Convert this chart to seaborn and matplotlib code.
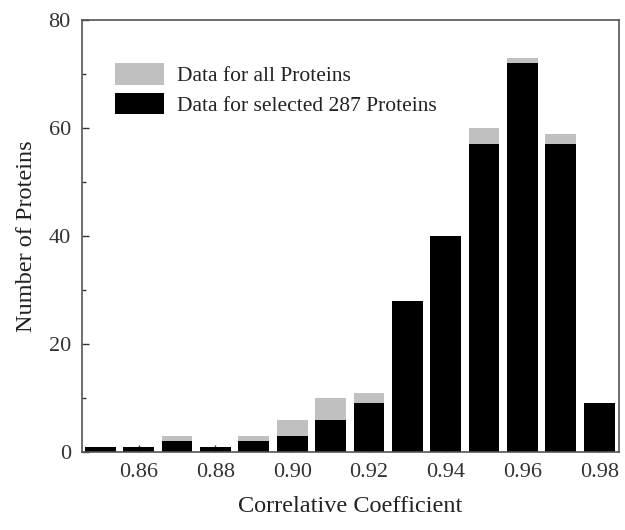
import pandas as pd
import numpy as np
import matplotlib.pyplot as plt
import seaborn as sns
from matplotlib.ticker import MultipleLocator

sns.set_style('white')
plt.rcParams['font.family'] = ['Liberation Serif', 'DejaVu Serif']

# bin centres of the correlative coefficient
coef = [0.85, 0.86, 0.87, 0.88, 0.89, 0.90, 0.91, 0.92, 0.93, 0.94, 0.95, 0.96, 0.97, 0.98]
# counts
all_counts = [1, 1, 3, 1, 3, 6, 10, 11, 28, 40, 60, 73, 59, 9]
selected_counts = [1, 1, 2, 1, 2, 3, 6, 9, 28, 40, 57, 72, 57, 9]

df = pd.DataFrame({'coef': coef, 'all': all_counts, 'selected': selected_counts})

fig = plt.figure(figsize=(6.25, 5.3), dpi=100)
ax = fig.add_axes([0.131, 0.147, 0.859, 0.815])

# all proteins behind, selected proteins drawn on top
sns.barplot(data=df, x='coef', y='all', native_scale=True, color='#c0c0c0',
            saturation=1, width=0.8, linewidth=0, ax=ax, label='Data for all Proteins')
sns.barplot(data=df, x='coef', y='selected', native_scale=True, color='black',
            saturation=1, width=0.8, linewidth=0, ax=ax, label='Data for selected 287 Proteins')

ax.set_xlim(0.8452, 0.9851)
ax.set_ylim(0, 80)
ax.set_xticks([0.86, 0.88, 0.90, 0.92, 0.94, 0.96, 0.98])
ax.set_xticklabels(['0.86', '0.88', '0.90', '0.92', '0.94', '0.96', '0.98'])
ax.yaxis.set_major_locator(MultipleLocator(20))
ax.yaxis.set_minor_locator(MultipleLocator(10))

ax.tick_params(axis='both', which='both', direction='in', labelsize=16,
               colors='#333333', labelcolor='#333333')
ax.tick_params(axis='both', which='major', length=5, width=1, pad=8)
ax.tick_params(axis='y', which='minor', length=3, width=1, left=True)
ax.tick_params(axis='x', bottom=True)
ax.tick_params(axis='y', left=True)

for sp in ax.spines.values():
    sp.set_color('#555555')
    sp.set_linewidth(1.2)

ax.set_xlabel('Correlative Coefficient', fontsize=17.5, color='#222222', labelpad=10)
ax.set_ylabel('Number of Proteins', fontsize=17.5, color='#222222', labelpad=8)

ax.legend(loc='upper left', bbox_to_anchor=(0.025, 0.945), frameon=False,
          fontsize=15.5, handlelength=2.3, handleheight=1.15, handletextpad=0.6,
          labelspacing=0.3, labelcolor='#222222')

fig.savefig('out.png', dpi=100)
